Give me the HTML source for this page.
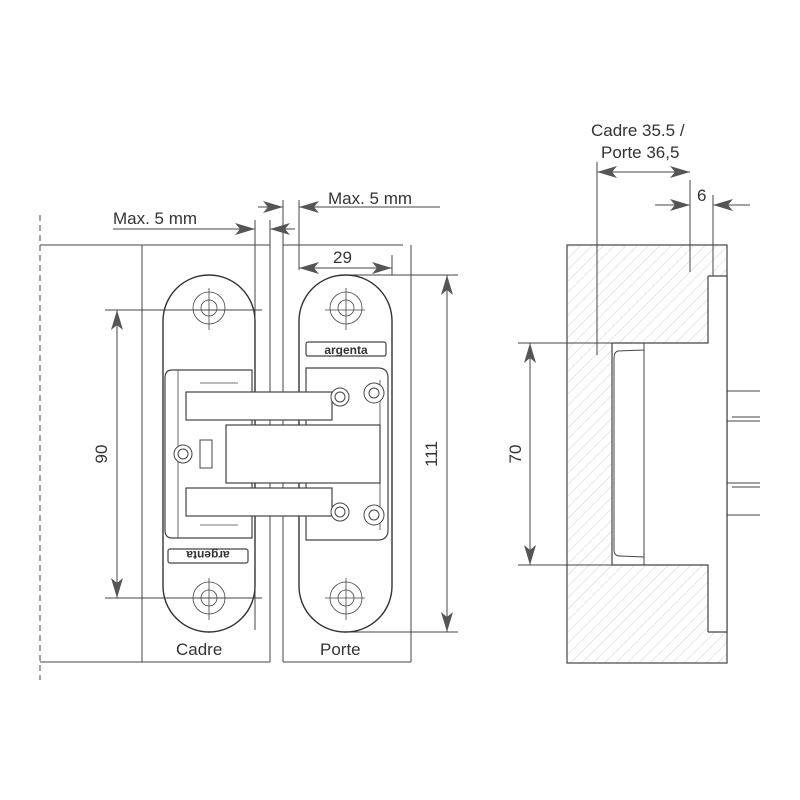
<!DOCTYPE html><html><head><style>body{margin:0;background:#fff}svg{display:block}text{font-family:"Liberation Sans",sans-serif;fill:#333}</style></head><body>
<svg width="800" height="800" viewBox="0 0 800 800" xmlns="http://www.w3.org/2000/svg">
<defs>
<marker id="a" viewBox="0 0 20 12" refX="20" refY="6" markerWidth="20" markerHeight="12" markerUnits="userSpaceOnUse" orient="auto-start-reverse"><path d="M0,0 L20,6 L0,12 L5,6Z" fill="#555"/></marker>
<pattern id="h" width="8" height="8" patternUnits="userSpaceOnUse" patternTransform="rotate(45)"><line x1="0" y1="0" x2="0" y2="8" stroke="#c4c4c4" stroke-width="0.8"/></pattern>
</defs>
<g fill="none" stroke="#444" stroke-width="1">
<line x1="40" y1="215" x2="40" y2="680" stroke-dasharray="6,4"/>
<line x1="40" y1="245" x2="270" y2="245"/>
<line x1="40" y1="662" x2="270" y2="662"/>
<line x1="142" y1="245" x2="142" y2="662"/>
<line x1="270" y1="220" x2="270" y2="662"/>
<line x1="255" y1="220" x2="255" y2="630"/>
<line x1="283" y1="200" x2="283" y2="662"/>
<line x1="299" y1="200" x2="299" y2="270"/>
<line x1="283" y1="245" x2="403" y2="245"/>
<line x1="411" y1="245" x2="411" y2="662"/>
<line x1="283" y1="662" x2="411" y2="662"/>
<line x1="113" y1="229" x2="255" y2="229" marker-end="url(#a)"/>
<line x1="295" y1="229" x2="270" y2="229" marker-end="url(#a)"/>
<line x1="258" y1="207" x2="283" y2="207" marker-end="url(#a)"/>
<line x1="440" y1="207" x2="299" y2="207" marker-end="url(#a)"/>
<line x1="392" y1="255" x2="392" y2="275"/>
<line x1="299" y1="268" x2="392" y2="268" marker-start="url(#a)" marker-end="url(#a)"/>
<line x1="105" y1="310" x2="262" y2="310"/>
<line x1="105" y1="598" x2="262" y2="598"/>
<line x1="117" y1="310" x2="117" y2="598" marker-start="url(#a)" marker-end="url(#a)"/>
<line x1="340" y1="275" x2="458" y2="275"/>
<line x1="340" y1="632" x2="458" y2="632"/>
<line x1="447" y1="275" x2="447" y2="632" marker-start="url(#a)" marker-end="url(#a)"/>
<rect x="163" y="275" width="92" height="357" rx="46" stroke-width="1.4" stroke="#333"/>
<rect x="299" y="275" width="93" height="357" rx="46" stroke-width="1.4" stroke="#333"/>
<g stroke-width="0.8">
<circle cx="209" cy="308" r="16"/><circle cx="209" cy="308" r="8"/>
<circle cx="209" cy="598" r="16"/><circle cx="209" cy="598" r="8"/>
<circle cx="346" cy="308" r="16"/><circle cx="346" cy="308" r="8"/>
<circle cx="346" cy="598" r="16"/><circle cx="346" cy="598" r="8"/>
<line x1="209" y1="288" x2="209" y2="330"/><line x1="209" y1="578" x2="209" y2="620"/>
<line x1="346" y1="288" x2="346" y2="330"/><line x1="346" y1="578" x2="346" y2="620"/>
<line x1="325" y1="310" x2="365" y2="310"/>
<line x1="325" y1="598" x2="365" y2="598"/>
<rect x="306" y="342" width="80" height="14" rx="2" stroke-width="1.2"/>
<rect x="168" y="549" width="80" height="14" rx="2" stroke-width="1.2"/>
</g>
<path d="M172,370 L252,370 L252,538 L172,538 Q165,538 165,530 L165,378 Q165,370 172,370Z" fill="#fff" stroke-width="1.2"/>
<path d="M306,368 L378,368 Q388,368 388,378 L388,530 Q388,540 378,540 L306,540 Z" fill="#fff" stroke-width="1.2"/>
<line x1="178" y1="370" x2="178" y2="538" stroke-width="0.8"/>
<line x1="380" y1="380" x2="380" y2="530" stroke-width="0.8"/>
<line x1="200" y1="383" x2="238" y2="383" stroke-width="0.8"/>
<line x1="200" y1="525" x2="238" y2="525" stroke-width="0.8"/>
<rect x="186" y="392" width="146" height="28" fill="#fff" stroke-width="1.2"/>
<rect x="186" y="488" width="146" height="28" fill="#fff" stroke-width="1.2"/>
<rect x="226" y="425" width="154" height="58" fill="#fff" stroke-width="1.2"/>
<rect x="200" y="440" width="12" height="28"/>
<circle cx="183" cy="454" r="9" fill="#fff"/><circle cx="183" cy="454" r="5"/>
<circle cx="340" cy="397" r="9" fill="#fff"/><circle cx="340" cy="397" r="5"/>
<circle cx="374" cy="393" r="10" fill="#fff"/><circle cx="374" cy="393" r="5"/>
<circle cx="340" cy="512" r="9" fill="#fff"/><circle cx="340" cy="512" r="5"/>
<circle cx="374" cy="515" r="10" fill="#fff"/><circle cx="374" cy="515" r="5"/>
<path d="M567,245 L727,245 L727,276 L708,276 L708,343 L612,343 L612,565 L708,565 L708,632 L727,632 L727,663 L567,663Z" fill="url(#h)" stroke="none"/>
<rect x="567" y="245" width="160" height="418" stroke-width="1.2"/>
<path d="M708,276 L727,276 L727,632 L708,632" fill="#fff" stroke-width="1.2"/>
<path d="M612,343 L708,343 L708,276 M612,343 L612,565 L708,565 L708,632" stroke-width="1.2"/>
<path d="M644,343 L644,565 M644,350 L618,351 Q614,352 614,358 L614,550 Q614,556 620,556 L644,557"/>
<line x1="727" y1="391" x2="760" y2="391"/>
<line x1="727" y1="421" x2="760" y2="421"/><line x1="732" y1="417" x2="760" y2="417"/>
<line x1="727" y1="483" x2="760" y2="483"/><line x1="732" y1="487" x2="760" y2="487"/>
<line x1="727" y1="515" x2="760" y2="515"/>
<line x1="597" y1="162" x2="597" y2="355"/>
<line x1="690" y1="180" x2="690" y2="272"/>
<line x1="713" y1="195" x2="713" y2="276"/>
<line x1="597" y1="172" x2="690" y2="172" marker-start="url(#a)" marker-end="url(#a)"/>
<line x1="655" y1="205" x2="690" y2="205" marker-end="url(#a)"/>
<line x1="750" y1="205" x2="713" y2="205" marker-end="url(#a)"/>
<line x1="518" y1="343" x2="612" y2="343"/>
<line x1="518" y1="565" x2="612" y2="565"/>
<line x1="530" y1="343" x2="530" y2="565" marker-start="url(#a)" marker-end="url(#a)"/>
</g>
<g font-size="17">
<text x="113" y="224">Max. 5 mm</text>
<text x="328" y="204">Max. 5 mm</text>
<text x="333" y="263">29</text>
<text x="176" y="655">Cadre</text>
<text x="320" y="655">Porte</text>
<text x="591" y="136">Cadre 35.5 /</text>
<text x="601" y="158">Porte 36,5</text>
<text x="697" y="201">6</text>
<text transform="translate(107,454) rotate(-90)" text-anchor="middle">90</text>
<text transform="translate(437,454) rotate(-90)" text-anchor="middle">111</text>
<text transform="translate(521,454) rotate(-90)" text-anchor="middle">70</text>
</g>
<text x="346" y="354" font-size="12" text-anchor="middle" font-weight="bold">argenta</text>
<text transform="translate(208,551) rotate(180)" font-size="12" text-anchor="middle" font-weight="bold">argenta</text>
</svg></body></html>
